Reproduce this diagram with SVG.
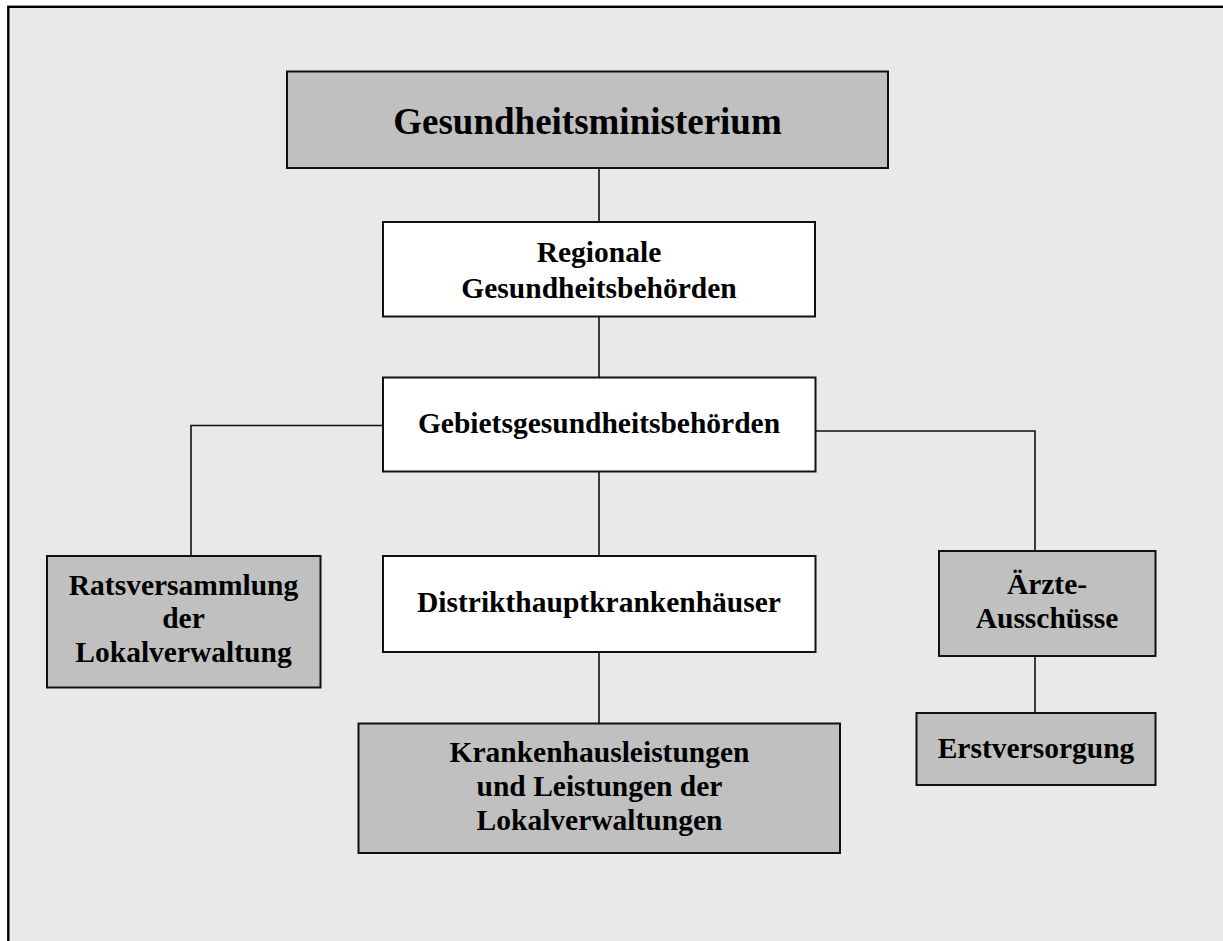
<svg xmlns="http://www.w3.org/2000/svg" width="1223" height="941" viewBox="0 0 1223 941">
<style>
.box{stroke:#111;stroke-width:2}
.grey{fill:#c0c0c0}
.white{fill:#ffffff}
.conn{stroke:#111;stroke-width:1.6;fill:none}
text{font-family:"Liberation Serif","Times New Roman",serif;font-weight:bold;fill:#000;text-anchor:middle;font-size:29.5px}
.big{font-size:37px}
</style>
<rect x="0" y="0" width="1223" height="941" fill="#ffffff"/>
<rect x="8.3" y="6.8" width="1240" height="960" fill="#e9e9e9" stroke="#000" stroke-width="2.4"/>
<g id="connectors">
<line class="conn" x1="599" y1="168" x2="599" y2="222"/>
<line class="conn" x1="599" y1="316" x2="599" y2="377"/>
<line class="conn" x1="599" y1="471" x2="599" y2="556"/>
<line class="conn" x1="599" y1="652" x2="599" y2="723"/>
<polyline class="conn" points="383,425.5 191,425.5 191,556"/>
<polyline class="conn" points="815,431 1035,431 1035,551"/>
<line class="conn" x1="1035" y1="656" x2="1035" y2="713"/>
</g>
<g id="gesundheitsministerium">
<rect class="box grey" x="287" y="71.5" width="601" height="96.5"/>
<text class="big" x="587.5" y="134">Gesundheitsministerium</text>
</g>
<g id="regionale">
<rect class="box white" x="383" y="222" width="432" height="94.5"/>
<text x="599" y="262">Regionale</text>
<text x="599" y="298">Gesundheitsbehörden</text>
</g>
<g id="gebiets">
<rect class="box white" x="383" y="377.5" width="432.5" height="94"/>
<text x="599" y="433">Gebietsgesundheitsbehörden</text>
</g>
<g id="ratsversammlung">
<rect class="box grey" x="47" y="556" width="273.5" height="131.5"/>
<text x="183.5" y="595">Ratsversammlung</text>
<text x="183.5" y="628">der</text>
<text x="183.5" y="662">Lokalverwaltung</text>
</g>
<g id="distrikt">
<rect class="box white" x="383" y="556" width="432.5" height="96"/>
<text x="599" y="612">Distrikthauptkrankenhäuser</text>
</g>
<g id="krankenhaus">
<rect class="box grey" x="358.5" y="723.5" width="481.5" height="129.5"/>
<text x="599.5" y="762">Krankenhausleistungen</text>
<text x="599.5" y="796">und Leistungen der</text>
<text x="599.5" y="829.5">Lokalverwaltungen</text>
</g>
<g id="aerzte">
<rect class="box grey" x="939" y="551" width="216.5" height="105"/>
<text x="1047" y="594">Ärzte-</text>
<text x="1047" y="628">Ausschüsse</text>
</g>
<g id="erstversorgung">
<rect class="box grey" x="916.5" y="713" width="239" height="72"/>
<text x="1036" y="758">Erstversorgung</text>
</g>
</svg>
